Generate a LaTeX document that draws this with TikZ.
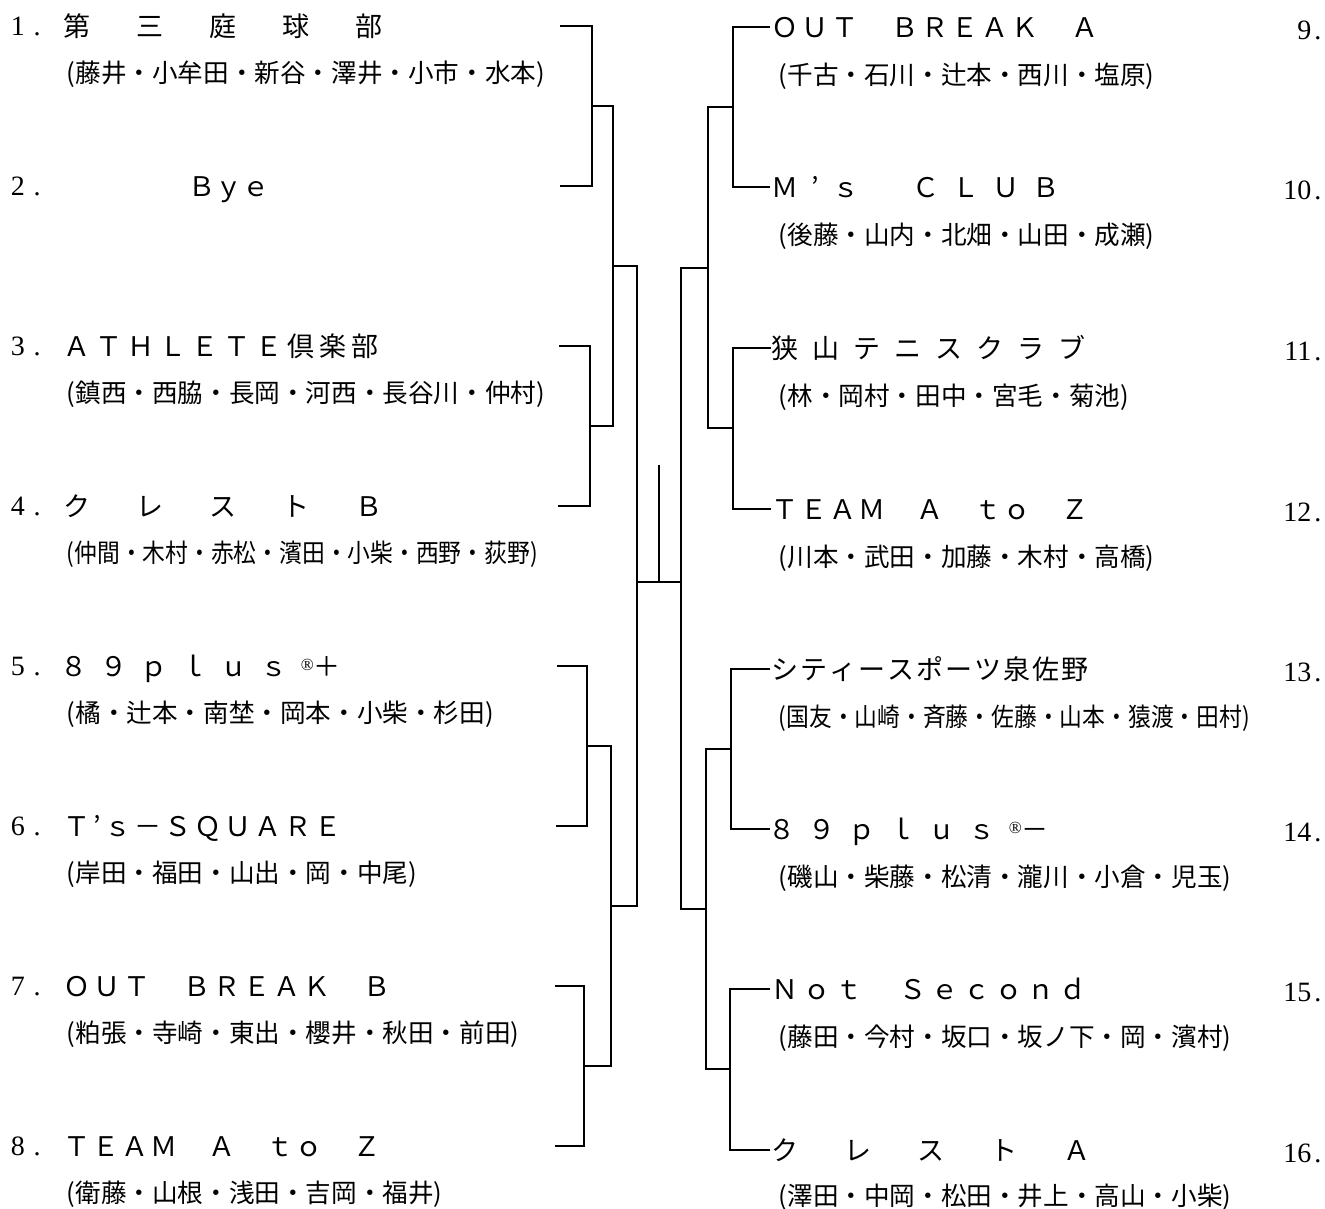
\documentclass[tikz,border=0pt]{standalone}
\usepackage{fontspec}
\usepackage{graphicx}
\newfontfamily\jfont{Noto Sans CJK JP}
\newfontfamily\nfont{Liberation Serif}
\makeatletter
\def\spread#1#2{\@tfor\sp@ch:=#2\do{\sp@ch\hspace{#1pt}}}
\makeatother

\begin{document}
\begin{tikzpicture}[x=1pt, y=-1pt, line width=1.5pt,
    team/.style={anchor=west, inner sep=0pt, font=\jfont\fontsize{27}{30}\selectfont, text height=23.8pt, text depth=3.2pt},
    member/.style={anchor=west, inner sep=0pt, font=\jfont\fontsize{25.6}{28}\selectfont, text height=22.5pt, text depth=3pt},
    num/.style={inner sep=0pt, font=\nfont\fontsize{28}{30}\selectfont, text height=18.5pt, text depth=0pt}]
			%%%%% START %%%%%
			\useasboundingbox (0,0) rectangle (1325,1209);
			
			% left half
			\node[num, anchor=west] (n1) at (10,26) {1\hspace{9pt}.};
			\node[team] (t1) at (63,26) {\spread{46}{第三庭球部}};
			\node[member] (m1) at (66,73) {(藤井・小牟田・新谷・澤井・小市・水本)};
			
			\node[num, anchor=west] (n2) at (10,186) {2\hspace{9pt}.};
			\node[team] (t2) at (188,186) {\spread{0}{Ｂｙｅ}};
			
			\node[num, anchor=west] (n3) at (10,346) {3\hspace{9pt}.};
			\node[team] (t3) at (63,346) {\spread{5}{ＡＴＨＬＥＴＥ倶楽部}};
			\node[member] (m3) at (66,393) {(鎮西・西脇・長岡・河西・長谷川・仲村)};
			
			\node[num, anchor=west] (n4) at (10,506) {4\hspace{9pt}.};
			\node[team] (t4) at (63,506) {\spread{46}{クレストＢ}};
			\node[member] (m4) at (66,553) {\scalebox{0.89}[1]{(仲間・木村・赤松・濱田・小柴・西野・荻野)}};
			
			\node[num, anchor=west] (n5) at (10,666) {5\hspace{9pt}.};
			\node[team] (t5) at (60,666) {\spread{13}{８９ｐｌｕｓ}\raisebox{6pt}{\nfont\fontsize{17}{17}\selectfont ®}＋};
			\node[member] (m5) at (66,713) {(橘・辻本・南埜・岡本・小柴・杉田)};
			
			\node[num, anchor=west] (n6) at (10,826) {6\hspace{9pt}.};
			\node[team] (t6) at (63,826) {\spread{3}{Ｔ’ｓ－ＳＱＵＡＲＥ}};
			\node[member] (m6) at (66,873) {(岸田・福田・山出・岡・中尾)};
			
			\node[num, anchor=west] (n7) at (10,986) {7\hspace{9pt}.};
			\node[team] (t7) at (63,986) {\spread{3}{ＯＵＴ　ＢＲＥＡＫ　Ｂ}};
			\node[member] (m7) at (66,1033) {(粕張・寺崎・東出・櫻井・秋田・前田)};
			
			\node[num, anchor=west] (n8) at (10,1146) {8\hspace{9pt}.};
			\node[team] (t8) at (63,1146) {\spread{2}{ＴＥＡＭ　Ａ　ｔｏ　Ｚ}};
			\node[member] (m8) at (66,1193) {(衛藤・山根・浅田・吉岡・福井)};
			
			% right half
			\node[num, anchor=east] (n9) at (1322,30) {9\hspace{3pt}.};
			\node[team] (t9) at (771,27) {\spread{3}{ＯＵＴ　ＢＲＥＡＫ　Ａ}};
			\node[member] (m9) at (778,75) {(千古・石川・辻本・西川・塩原)};
			
			\node[num, anchor=east] (n10) at (1322,190) {10\hspace{3pt}.};
			\node[team] (t10) at (771,187) {\spread{13}{Ｍ’ｓ　ＣＬＵＢ}};
			\node[member] (m10) at (778,235) {(後藤・山内・北畑・山田・成瀬)};
			
			\node[num, anchor=east] (n11) at (1322,351) {11\hspace{3pt}.};
			\node[team] (t11) at (771,348) {\spread{14}{狭山テニスクラブ}};
			\node[member] (m11) at (778,396) {(林・岡村・田中・宮毛・菊池)};
			
			\node[num, anchor=east] (n12) at (1322,512) {12\hspace{3pt}.};
			\node[team] (t12) at (771,509) {\spread{2}{ＴＥＡＭ　Ａ　ｔｏ　Ｚ}};
			\node[member] (m12) at (778,557) {(川本・武田・加藤・木村・高橋)};
			
			\node[num, anchor=east] (n13) at (1322,672) {13\hspace{3pt}.};
			\node[team] (t13) at (771,669) {\spread{2}{シティースポーツ泉佐野}};
			\node[member] (m13) at (778,717) {\scalebox{0.89}[1]{(国友・山崎・斉藤・佐藤・山本・猿渡・田村)}};
			
			\node[num, anchor=east] (n14) at (1322,832) {14\hspace{3pt}.};
			\node[team] (t14) at (768,829) {\spread{13}{８９ｐｌｕｓ}\raisebox{6pt}{\nfont\fontsize{17}{17}\selectfont ®}－};
			\node[member] (m14) at (778,877) {(磯山・柴藤・松清・瀧川・小倉・児玉)};
			
			\node[num, anchor=east] (n15) at (1322,992) {15\hspace{3pt}.};
			\node[team] (t15) at (771,989) {\spread{5}{Ｎｏｔ　Ｓｅｃｏｎｄ}};
			\node[member] (m15) at (778,1037) {(藤田・今村・坂口・坂ノ下・岡・濱村)};
			
			\node[num, anchor=east] (n16) at (1322,1153) {16\hspace{3pt}.};
			\node[team] (t16) at (771,1150) {\spread{46}{クレストＡ}};
			\node[member] (m16) at (778,1196) {(澤田・中岡・松田・井上・高山・小柴)};
			
			% bracket points
			\coordinate (a1) at (560,26);  \coordinate (a2) at (560,186);
			\coordinate (a3) at (559,346); \coordinate (a4) at (558,506);
			\coordinate (a5) at (557,666); \coordinate (a6) at (556,826);
			\coordinate (a7) at (555,986); \coordinate (a8) at (555,1146);
			\coordinate (j1) at (592,106); \coordinate (j2) at (590,426);
			\coordinate (j3) at (587,746); \coordinate (j4) at (584,1066);
			\coordinate (k1) at (613,266); \coordinate (k2) at (611,906);
			\coordinate (f) at (637,582);
			
			\coordinate (b9) at (770,27);   \coordinate (b10) at (770,187);
			\coordinate (b11) at (771,348); \coordinate (b12) at (771,509);
			\coordinate (b13) at (770,669); \coordinate (b14) at (770,829);
			\coordinate (b15) at (770,989); \coordinate (b16) at (770,1150);
			\coordinate (p1) at (733,107); \coordinate (p2) at (733,428);
			\coordinate (p3) at (731,749); \coordinate (p4) at (730,1069);
			\coordinate (q1) at (708,268); \coordinate (q2) at (706,909);
			\coordinate (g) at (681,582);
			\coordinate (c) at (659,465);
			
			\draw (a1) -| (j1) |- (a2);
			\draw (a3) -| (j2) |- (a4);
			\draw (a5) -| (j3) |- (a6);
			\draw (a7) -| (j4) |- (a8);
			\draw (j1) -| (k1) |- (j2);
			\draw (j3) -| (k2) |- (j4);
			\draw (k1) -| (f) |- (k2);
			
			\draw (b9) -| (p1) |- (b10);
			\draw (b11) -| (p2) |- (b12);
			\draw (b13) -| (p3) |- (b14);
			\draw (b15) -| (p4) |- (b16);
			\draw (p1) -| (q1) |- (p2);
			\draw (p3) -| (q2) |- (p4);
			\draw (q1) -| (g) |- (q2);
			
			\draw (f) -- (g);
			\draw (c) -- (c |- f);
			
			%%%%% END %%%%%
\end{tikzpicture}
\end{document}
